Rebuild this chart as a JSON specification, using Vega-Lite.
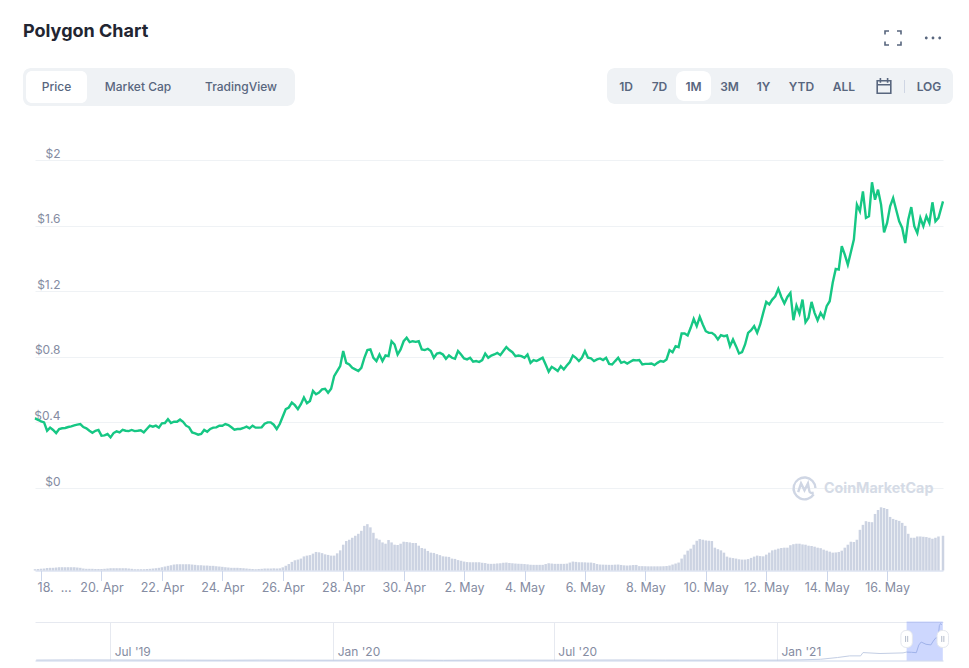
{"$schema":"https://vega.github.io/schema/vega-lite/v6.json","width":969,"height":668,"autosize":{"type":"none"},"padding":0,"background":"#ffffff","config":{"view":{"stroke":null},"font":"Inter"},
"data":{"name":"one"},
"datasets":{"one":[{}],"handles":[{"t":"2021-04-18T00:00Z"},{"t":"2021-05-17T20:00Z"}],"selected":[{"from":"2021-04-18T00:00Z","to":"2021-05-17T20:00Z"}],
"nav":[{"t":"2019-05-01","p":0.02},{"t":"2019-06-01","p":0.028},{"t":"2019-07-01","p":0.025},{"t":"2019-08-01","p":0.02},{"t":"2019-09-01","p":0.018},{"t":"2019-10-01","p":0.013},{"t":"2019-11-01","p":0.02},{"t":"2019-12-01","p":0.016},{"t":"2020-01-01","p":0.014},{"t":"2020-02-01","p":0.022},{"t":"2020-03-01","p":0.02},{"t":"2020-04-01","p":0.01},{"t":"2020-05-01","p":0.017},{"t":"2020-06-01","p":0.018},{"t":"2020-07-01","p":0.016},{"t":"2020-08-01","p":0.022},{"t":"2020-09-01","p":0.025},{"t":"2020-10-01","p":0.018},{"t":"2020-11-01","p":0.017},{"t":"2020-12-01","p":0.018},{"t":"2021-01-01","p":0.018},{"t":"2021-01-20","p":0.03},{"t":"2021-02-06","p":0.06},{"t":"2021-02-20","p":0.145},{"t":"2021-03-02","p":0.225},{"t":"2021-03-11","p":0.225},{"t":"2021-03-13","p":0.386},{"t":"2021-03-27","p":0.34},{"t":"2021-04-15","p":0.37},{"t":"2021-04-18","p":0.41},{"t":"2021-04-22","p":0.4},{"t":"2021-04-26","p":0.38},{"t":"2021-04-28","p":0.75},{"t":"2021-04-30","p":0.9},{"t":"2021-05-04","p":0.79},{"t":"2021-05-08","p":0.76},{"t":"2021-05-10","p":0.95},{"t":"2021-05-12","p":1.1},{"t":"2021-05-14","p":1.1},{"t":"2021-05-15","p":1.7},{"t":"2021-05-16","p":1.8},{"t":"2021-05-17","p":1.74}],
"main":[
{"t":"2021-04-17T19:12Z","p":0.424,"v":13},{"t":"2021-04-17T21:36Z","p":0.416,"v":15},
{"t":"2021-04-18T00:00Z","p":0.406,"v":18},{"t":"2021-04-18T02:24Z","p":0.4,"v":20},{"t":"2021-04-18T04:48Z","p":0.349,"v":25},{"t":"2021-04-18T07:12Z","p":0.368,"v":27},{"t":"2021-04-18T09:36Z","p":0.354,"v":27},{"t":"2021-04-18T12:00Z","p":0.335,"v":30},{"t":"2021-04-18T14:24Z","p":0.36,"v":33},{"t":"2021-04-18T16:48Z","p":0.364,"v":33},{"t":"2021-04-18T19:12Z","p":0.366,"v":33},{"t":"2021-04-18T21:36Z","p":0.372,"v":33},
{"t":"2021-04-19T00:00Z","p":0.376,"v":33},{"t":"2021-04-19T02:24Z","p":0.382,"v":33},{"t":"2021-04-19T04:48Z","p":0.386,"v":30},{"t":"2021-04-19T07:12Z","p":0.39,"v":27},{"t":"2021-04-19T09:36Z","p":0.372,"v":20},{"t":"2021-04-19T12:00Z","p":0.364,"v":17},{"t":"2021-04-19T14:24Z","p":0.349,"v":17},{"t":"2021-04-19T16:48Z","p":0.337,"v":17},{"t":"2021-04-19T19:12Z","p":0.349,"v":15},{"t":"2021-04-19T21:36Z","p":0.354,"v":15},
{"t":"2021-04-20T00:00Z","p":0.319,"v":15},{"t":"2021-04-20T02:24Z","p":0.321,"v":17},{"t":"2021-04-20T04:48Z","p":0.329,"v":20},{"t":"2021-04-20T07:12Z","p":0.309,"v":23},{"t":"2021-04-20T09:36Z","p":0.335,"v":23},{"t":"2021-04-20T12:00Z","p":0.345,"v":23},{"t":"2021-04-20T14:24Z","p":0.339,"v":23},{"t":"2021-04-20T16:48Z","p":0.354,"v":23},{"t":"2021-04-20T19:12Z","p":0.349,"v":23},{"t":"2021-04-20T21:36Z","p":0.347,"v":20},
{"t":"2021-04-21T00:00Z","p":0.354,"v":17},{"t":"2021-04-21T02:24Z","p":0.347,"v":13},{"t":"2021-04-21T04:48Z","p":0.349,"v":13},{"t":"2021-04-21T07:12Z","p":0.352,"v":13},{"t":"2021-04-21T09:36Z","p":0.339,"v":13},{"t":"2021-04-21T12:00Z","p":0.36,"v":15},{"t":"2021-04-21T14:24Z","p":0.38,"v":17},{"t":"2021-04-21T16:48Z","p":0.374,"v":20},{"t":"2021-04-21T19:12Z","p":0.38,"v":23},{"t":"2021-04-21T21:36Z","p":0.368,"v":27},
{"t":"2021-04-22T00:00Z","p":0.394,"v":33},{"t":"2021-04-22T02:24Z","p":0.396,"v":40},{"t":"2021-04-22T04:48Z","p":0.42,"v":47},{"t":"2021-04-22T07:12Z","p":0.396,"v":53},{"t":"2021-04-22T09:36Z","p":0.404,"v":60},{"t":"2021-04-22T12:00Z","p":0.404,"v":63},{"t":"2021-04-22T14:24Z","p":0.418,"v":63},{"t":"2021-04-22T16:48Z","p":0.404,"v":63},{"t":"2021-04-22T19:12Z","p":0.38,"v":63},{"t":"2021-04-22T21:36Z","p":0.37,"v":63},
{"t":"2021-04-23T00:00Z","p":0.339,"v":60},{"t":"2021-04-23T02:24Z","p":0.333,"v":57},{"t":"2021-04-23T04:48Z","p":0.325,"v":53},{"t":"2021-04-23T07:12Z","p":0.329,"v":53},{"t":"2021-04-23T09:36Z","p":0.354,"v":50},{"t":"2021-04-23T12:00Z","p":0.343,"v":50},{"t":"2021-04-23T14:24Z","p":0.36,"v":47},{"t":"2021-04-23T16:48Z","p":0.368,"v":47},{"t":"2021-04-23T19:12Z","p":0.37,"v":43},{"t":"2021-04-23T21:36Z","p":0.38,"v":40},
{"t":"2021-04-24T00:00Z","p":0.38,"v":37},{"t":"2021-04-24T02:24Z","p":0.39,"v":33},{"t":"2021-04-24T04:48Z","p":0.384,"v":30},{"t":"2021-04-24T07:12Z","p":0.37,"v":27},{"t":"2021-04-24T09:36Z","p":0.356,"v":27},{"t":"2021-04-24T12:00Z","p":0.36,"v":27},{"t":"2021-04-24T14:24Z","p":0.36,"v":25},{"t":"2021-04-24T16:48Z","p":0.366,"v":23},{"t":"2021-04-24T19:12Z","p":0.374,"v":20},{"t":"2021-04-24T21:36Z","p":0.364,"v":17},
{"t":"2021-04-25T00:00Z","p":0.38,"v":15},{"t":"2021-04-25T02:24Z","p":0.368,"v":13},{"t":"2021-04-25T04:48Z","p":0.368,"v":15},{"t":"2021-04-25T07:12Z","p":0.37,"v":17},{"t":"2021-04-25T09:36Z","p":0.392,"v":20},{"t":"2021-04-25T12:00Z","p":0.4,"v":20},{"t":"2021-04-25T14:24Z","p":0.4,"v":20},{"t":"2021-04-25T16:48Z","p":0.386,"v":22},{"t":"2021-04-25T19:12Z","p":0.36,"v":20},{"t":"2021-04-25T21:36Z","p":0.39,"v":22},
{"t":"2021-04-26T00:00Z","p":0.436,"v":32},{"t":"2021-04-26T02:24Z","p":0.481,"v":48},{"t":"2021-04-26T04:48Z","p":0.491,"v":65},{"t":"2021-04-26T07:12Z","p":0.521,"v":87},{"t":"2021-04-26T09:36Z","p":0.505,"v":103},{"t":"2021-04-26T12:00Z","p":0.481,"v":110},{"t":"2021-04-26T14:24Z","p":0.511,"v":120},{"t":"2021-04-26T16:48Z","p":0.552,"v":142},{"t":"2021-04-26T19:12Z","p":0.517,"v":150},{"t":"2021-04-26T21:36Z","p":0.531,"v":155},
{"t":"2021-04-27T00:00Z","p":0.592,"v":170},{"t":"2021-04-27T02:24Z","p":0.572,"v":187},{"t":"2021-04-27T04:48Z","p":0.582,"v":183},{"t":"2021-04-27T07:12Z","p":0.601,"v":175},{"t":"2021-04-27T09:36Z","p":0.605,"v":163},{"t":"2021-04-27T12:00Z","p":0.581,"v":157},{"t":"2021-04-27T14:24Z","p":0.605,"v":150},{"t":"2021-04-27T16:48Z","p":0.682,"v":150},{"t":"2021-04-27T19:12Z","p":0.713,"v":173},{"t":"2021-04-27T21:36Z","p":0.743,"v":203},
{"t":"2021-04-28T00:00Z","p":0.835,"v":260},{"t":"2021-04-28T02:24Z","p":0.763,"v":297},{"t":"2021-04-28T04:48Z","p":0.753,"v":310},{"t":"2021-04-28T07:12Z","p":0.733,"v":330},{"t":"2021-04-28T09:36Z","p":0.723,"v":350},{"t":"2021-04-28T12:00Z","p":0.713,"v":370},{"t":"2021-04-28T14:24Z","p":0.733,"v":400},{"t":"2021-04-28T16:48Z","p":0.794,"v":450},{"t":"2021-04-28T19:12Z","p":0.841,"v":467},{"t":"2021-04-28T21:36Z","p":0.845,"v":435},
{"t":"2021-04-29T00:00Z","p":0.794,"v":380},{"t":"2021-04-29T02:24Z","p":0.774,"v":323},{"t":"2021-04-29T04:48Z","p":0.814,"v":310},{"t":"2021-04-29T07:12Z","p":0.774,"v":283},{"t":"2021-04-29T09:36Z","p":0.808,"v":270},{"t":"2021-04-29T12:00Z","p":0.804,"v":307},{"t":"2021-04-29T14:24Z","p":0.895,"v":283},{"t":"2021-04-29T16:48Z","p":0.875,"v":260},{"t":"2021-04-29T19:12Z","p":0.814,"v":257},{"t":"2021-04-29T21:36Z","p":0.845,"v":270},
{"t":"2021-04-30T00:00Z","p":0.895,"v":290},{"t":"2021-04-30T02:24Z","p":0.916,"v":287},{"t":"2021-04-30T04:48Z","p":0.889,"v":283},{"t":"2021-04-30T07:12Z","p":0.895,"v":277},{"t":"2021-04-30T09:36Z","p":0.891,"v":277},{"t":"2021-04-30T12:00Z","p":0.895,"v":250},{"t":"2021-04-30T14:24Z","p":0.845,"v":227},{"t":"2021-04-30T16:48Z","p":0.841,"v":220},{"t":"2021-04-30T19:12Z","p":0.849,"v":197},{"t":"2021-04-30T21:36Z","p":0.835,"v":180},
{"t":"2021-05-01T00:00Z","p":0.794,"v":177},{"t":"2021-05-01T02:24Z","p":0.82,"v":165},{"t":"2021-05-01T04:48Z","p":0.824,"v":155},{"t":"2021-05-01T07:12Z","p":0.814,"v":143},{"t":"2021-05-01T09:36Z","p":0.788,"v":140},{"t":"2021-05-01T12:00Z","p":0.808,"v":137},{"t":"2021-05-01T14:24Z","p":0.794,"v":120},{"t":"2021-05-01T16:48Z","p":0.788,"v":117},{"t":"2021-05-01T19:12Z","p":0.835,"v":105},{"t":"2021-05-01T21:36Z","p":0.814,"v":98},
{"t":"2021-05-02T00:00Z","p":0.79,"v":90},{"t":"2021-05-02T02:24Z","p":0.784,"v":85},{"t":"2021-05-02T04:48Z","p":0.794,"v":83},{"t":"2021-05-02T07:12Z","p":0.77,"v":83},{"t":"2021-05-02T09:36Z","p":0.774,"v":83},{"t":"2021-05-02T12:00Z","p":0.768,"v":83},{"t":"2021-05-02T14:24Z","p":0.78,"v":78},{"t":"2021-05-02T16:48Z","p":0.82,"v":75},{"t":"2021-05-02T19:12Z","p":0.794,"v":68},{"t":"2021-05-02T21:36Z","p":0.808,"v":67},
{"t":"2021-05-03T00:00Z","p":0.814,"v":68},{"t":"2021-05-03T02:24Z","p":0.824,"v":71},{"t":"2021-05-03T04:48Z","p":0.81,"v":73},{"t":"2021-05-03T07:12Z","p":0.835,"v":78},{"t":"2021-05-03T09:36Z","p":0.859,"v":80},{"t":"2021-05-03T12:00Z","p":0.841,"v":76},{"t":"2021-05-03T14:24Z","p":0.828,"v":72},{"t":"2021-05-03T16:48Z","p":0.804,"v":70},{"t":"2021-05-03T19:12Z","p":0.808,"v":68},{"t":"2021-05-03T21:36Z","p":0.804,"v":67},
{"t":"2021-05-04T00:00Z","p":0.794,"v":65},{"t":"2021-05-04T02:24Z","p":0.814,"v":62},{"t":"2021-05-04T04:48Z","p":0.763,"v":58},{"t":"2021-05-04T07:12Z","p":0.78,"v":57},{"t":"2021-05-04T09:36Z","p":0.774,"v":57},{"t":"2021-05-04T12:00Z","p":0.784,"v":57},{"t":"2021-05-04T14:24Z","p":0.794,"v":57},{"t":"2021-05-04T16:48Z","p":0.753,"v":65},{"t":"2021-05-04T19:12Z","p":0.709,"v":73},{"t":"2021-05-04T21:36Z","p":0.739,"v":70},
{"t":"2021-05-05T00:00Z","p":0.727,"v":67},{"t":"2021-05-05T02:24Z","p":0.713,"v":67},{"t":"2021-05-05T04:48Z","p":0.743,"v":67},{"t":"2021-05-05T07:12Z","p":0.723,"v":67},{"t":"2021-05-05T09:36Z","p":0.747,"v":69},{"t":"2021-05-05T12:00Z","p":0.768,"v":80},{"t":"2021-05-05T14:24Z","p":0.808,"v":90},{"t":"2021-05-05T16:48Z","p":0.794,"v":87},{"t":"2021-05-05T19:12Z","p":0.774,"v":83},{"t":"2021-05-05T21:36Z","p":0.794,"v":83},
{"t":"2021-05-06T00:00Z","p":0.835,"v":82},{"t":"2021-05-06T02:24Z","p":0.794,"v":80},{"t":"2021-05-06T04:48Z","p":0.79,"v":80},{"t":"2021-05-06T07:12Z","p":0.774,"v":75},{"t":"2021-05-06T09:36Z","p":0.784,"v":65},{"t":"2021-05-06T12:00Z","p":0.79,"v":60},{"t":"2021-05-06T14:24Z","p":0.78,"v":59},{"t":"2021-05-06T16:48Z","p":0.794,"v":58},{"t":"2021-05-06T19:12Z","p":0.757,"v":57},{"t":"2021-05-06T21:36Z","p":0.753,"v":57},
{"t":"2021-05-07T00:00Z","p":0.774,"v":59},{"t":"2021-05-07T02:24Z","p":0.794,"v":60},{"t":"2021-05-07T04:48Z","p":0.763,"v":56},{"t":"2021-05-07T07:12Z","p":0.77,"v":52},{"t":"2021-05-07T09:36Z","p":0.759,"v":50},{"t":"2021-05-07T12:00Z","p":0.77,"v":52},{"t":"2021-05-07T14:24Z","p":0.78,"v":55},{"t":"2021-05-07T16:48Z","p":0.778,"v":56},{"t":"2021-05-07T19:12Z","p":0.78,"v":44},{"t":"2021-05-07T21:36Z","p":0.753,"v":44},
{"t":"2021-05-08T00:00Z","p":0.757,"v":43},{"t":"2021-05-08T02:24Z","p":0.757,"v":42},{"t":"2021-05-08T04:48Z","p":0.759,"v":42},{"t":"2021-05-08T07:12Z","p":0.749,"v":42},{"t":"2021-05-08T09:36Z","p":0.763,"v":42},{"t":"2021-05-08T12:00Z","p":0.774,"v":42},{"t":"2021-05-08T14:24Z","p":0.77,"v":43},{"t":"2021-05-08T16:48Z","p":0.784,"v":45},{"t":"2021-05-08T19:12Z","p":0.841,"v":50},{"t":"2021-05-08T21:36Z","p":0.828,"v":60},
{"t":"2021-05-09T00:00Z","p":0.865,"v":70},{"t":"2021-05-09T02:24Z","p":0.859,"v":80},{"t":"2021-05-09T04:48Z","p":0.942,"v":120},{"t":"2021-05-09T07:12Z","p":0.942,"v":160},{"t":"2021-05-09T09:36Z","p":0.93,"v":200},{"t":"2021-05-09T12:00Z","p":0.977,"v":220},{"t":"2021-05-09T14:24Z","p":1.031,"v":260},{"t":"2021-05-09T16:48Z","p":0.987,"v":300},{"t":"2021-05-09T19:12Z","p":1.044,"v":317},{"t":"2021-05-09T21:36Z","p":0.997,"v":310},
{"t":"2021-05-10T00:00Z","p":0.956,"v":303},{"t":"2021-05-10T02:24Z","p":0.946,"v":300},{"t":"2021-05-10T04:48Z","p":0.946,"v":297},{"t":"2021-05-10T07:12Z","p":0.932,"v":230},{"t":"2021-05-10T09:36Z","p":0.906,"v":215},{"t":"2021-05-10T12:00Z","p":0.932,"v":203},{"t":"2021-05-10T14:24Z","p":0.926,"v":180},{"t":"2021-05-10T16:48Z","p":0.93,"v":140},{"t":"2021-05-10T19:12Z","p":0.865,"v":130},{"t":"2021-05-10T21:36Z","p":0.906,"v":125},
{"t":"2021-05-11T00:00Z","p":0.865,"v":120},{"t":"2021-05-11T02:24Z","p":0.82,"v":113},{"t":"2021-05-11T04:48Z","p":0.828,"v":110},{"t":"2021-05-11T07:12Z","p":0.875,"v":110},{"t":"2021-05-11T09:36Z","p":0.946,"v":115},{"t":"2021-05-11T12:00Z","p":0.962,"v":127},{"t":"2021-05-11T14:24Z","p":0.987,"v":140},{"t":"2021-05-11T16:48Z","p":0.946,"v":150},{"t":"2021-05-11T19:12Z","p":0.997,"v":145},{"t":"2021-05-11T21:36Z","p":1.068,"v":143},
{"t":"2021-05-12T00:00Z","p":1.135,"v":160},{"t":"2021-05-12T02:24Z","p":1.119,"v":180},{"t":"2021-05-12T04:48Z","p":1.149,"v":203},{"t":"2021-05-12T07:12Z","p":1.169,"v":210},{"t":"2021-05-12T09:36Z","p":1.214,"v":220},{"t":"2021-05-12T12:00Z","p":1.165,"v":227},{"t":"2021-05-12T14:24Z","p":1.125,"v":230},{"t":"2021-05-12T16:48Z","p":1.165,"v":230},{"t":"2021-05-12T19:12Z","p":1.19,"v":255},{"t":"2021-05-12T21:36Z","p":1.023,"v":265},
{"t":"2021-05-13T00:00Z","p":1.113,"v":270},{"t":"2021-05-13T02:24Z","p":1.064,"v":270},{"t":"2021-05-13T04:48Z","p":1.149,"v":263},{"t":"2021-05-13T07:12Z","p":1.011,"v":260},{"t":"2021-05-13T09:36Z","p":1.038,"v":250},{"t":"2021-05-13T12:00Z","p":1.135,"v":247},{"t":"2021-05-13T14:24Z","p":1.068,"v":240},{"t":"2021-05-13T16:48Z","p":1.023,"v":230},{"t":"2021-05-13T19:12Z","p":1.068,"v":225},{"t":"2021-05-13T21:36Z","p":1.038,"v":210},
{"t":"2021-05-14T00:00Z","p":1.109,"v":200},{"t":"2021-05-14T02:24Z","p":1.139,"v":190},{"t":"2021-05-14T04:48Z","p":1.251,"v":180},{"t":"2021-05-14T07:12Z","p":1.336,"v":182},{"t":"2021-05-14T09:36Z","p":1.332,"v":187},{"t":"2021-05-14T12:00Z","p":1.474,"v":200},{"t":"2021-05-14T14:24Z","p":1.423,"v":230},{"t":"2021-05-14T16:48Z","p":1.362,"v":260},{"t":"2021-05-14T19:12Z","p":1.437,"v":290},{"t":"2021-05-14T21:36Z","p":1.515,"v":287},
{"t":"2021-05-15T00:00Z","p":1.728,"v":310},{"t":"2021-05-15T02:24Z","p":1.687,"v":410},{"t":"2021-05-15T04:48Z","p":1.809,"v":460},{"t":"2021-05-15T07:12Z","p":1.647,"v":497},{"t":"2021-05-15T09:36Z","p":1.657,"v":490},{"t":"2021-05-15T12:00Z","p":1.864,"v":487},{"t":"2021-05-15T14:24Z","p":1.758,"v":570},{"t":"2021-05-15T16:48Z","p":1.819,"v":610},{"t":"2021-05-15T19:12Z","p":1.728,"v":637},{"t":"2021-05-15T21:36Z","p":1.559,"v":630},
{"t":"2021-05-16T00:00Z","p":1.616,"v":620},{"t":"2021-05-16T02:24Z","p":1.718,"v":540},{"t":"2021-05-16T04:48Z","p":1.768,"v":520},{"t":"2021-05-16T07:12Z","p":1.697,"v":510},{"t":"2021-05-16T09:36Z","p":1.626,"v":500},{"t":"2021-05-16T12:00Z","p":1.586,"v":480},{"t":"2021-05-16T14:24Z","p":1.494,"v":450},{"t":"2021-05-16T16:48Z","p":1.636,"v":370},{"t":"2021-05-16T19:12Z","p":1.713,"v":330},{"t":"2021-05-16T21:36Z","p":1.596,"v":330},
{"t":"2021-05-17T00:00Z","p":1.555,"v":343},{"t":"2021-05-17T02:24Z","p":1.647,"v":343},{"t":"2021-05-17T04:48Z","p":1.596,"v":340},{"t":"2021-05-17T07:12Z","p":1.657,"v":337},{"t":"2021-05-17T09:36Z","p":1.616,"v":330},{"t":"2021-05-17T12:00Z","p":1.742,"v":320},{"t":"2021-05-17T14:24Z","p":1.626,"v":330},{"t":"2021-05-17T16:48Z","p":1.647,"v":343},{"t":"2021-05-17T20:24Z","p":1.748,"v":350}
]},
"resolve":{"scale":{"x":"independent","y":"independent"}},
"layer":[
{"data":{"name":"main"},"mark":{"type":"line","color":"#16C784","strokeWidth":2.4,"interpolate":"linear"},"encoding":{
"x":{"field":"t","type":"temporal","scale":{"type":"utc","domain":[{"year":2021,"month":"apr","date":17,"hours":19,"minutes":12,"utc":true},{"year":2021,"month":"may","date":17,"hours":20,"minutes":24,"utc":true}],"range":[35,943]},"axis":null},
"y":{"field":"p","type":"quantitative","scale":{"domain":[0,2],"range":[488,160],"nice":false,"zero":false},"axis":{"title":null,"orient":"left","values":[0,0.4,0.8,1.2,1.6,2],"labelExpr":"'$'+datum.value","grid":true,"gridColor":"#EFF2F5","gridWidth":1,"domain":false,"ticks":false,"tickSize":0,"labelPadding":-60,"labelAlign":"right","labelBaseline":"bottom","labelOffset":0,"labelFont":"Inter","labelFontSize":12,"labelColor":"#858CA2"}}}},
{"data":{"name":"main"},"mark":{"type":"bar","color":"#CCD3E2","width":2.5},"encoding":{
"x":{"field":"t","type":"temporal","scale":{"type":"utc","padding":0,"domain":[{"year":2021,"month":"apr","date":17,"hours":19,"minutes":12,"utc":true},{"year":2021,"month":"may","date":17,"hours":20,"minutes":24,"utc":true}],"range":[35,943]},"axis":{"title":null,"orient":"bottom","offset":-97.5,"values":[{"year":2021,"month":"apr","date":18,"utc":true},{"year":2021,"month":"apr","date":20,"utc":true},{"year":2021,"month":"apr","date":22,"utc":true},{"year":2021,"month":"apr","date":24,"utc":true},{"year":2021,"month":"apr","date":26,"utc":true},{"year":2021,"month":"apr","date":28,"utc":true},{"year":2021,"month":"apr","date":30,"utc":true},{"year":2021,"month":"may","date":2,"utc":true},{"year":2021,"month":"may","date":4,"utc":true},{"year":2021,"month":"may","date":6,"utc":true},{"year":2021,"month":"may","date":8,"utc":true},{"year":2021,"month":"may","date":10,"utc":true},{"year":2021,"month":"may","date":12,"utc":true},{"year":2021,"month":"may","date":14,"utc":true},{"year":2021,"month":"may","date":16,"utc":true}],"labelExpr":"utcdate(datum.value)==18?'18.\u00a0\u00a0...':utcFormat(datum.value,'%-d. %b')","labelAlign":{"condition":{"test":"utcdate(datum.value)==18","value":"left"},"value":"center"},"labelOffset":{"condition":{"test":"utcdate(datum.value)==18","value":-4},"value":0},"labelOverlap":false,"labelBound":false,"grid":false,"domain":true,"domainColor":"#CCD6EB","ticks":true,"tickColor":"#CCD6EB","tickSize":10,"labelPadding":1,"labelFont":"Inter","labelFontSize":12.5,"labelColor":"#858CA2"}},
"y":{"field":"v","type":"quantitative","scale":{"domain":[0,640],"range":[570.5,507],"nice":false},"axis":null}}},
{"layer":[
{"data":{"name":"nav"},"mark":{"type":"line","color":"#C3CEE4","strokeWidth":1},"encoding":{
"x":{"field":"t","type":"temporal","scale":{"type":"utc","domain":[{"year":2019,"month":"apr","date":30,"utc":true},{"year":2021,"month":"may","date":18,"utc":true}],"range":[35,943]},"axis":{"title":null,"orient":"top","offset":-660.5,"values":[{"year":2019,"month":"jul","date":1,"utc":true},{"year":2020,"month":"jan","date":1,"utc":true},{"year":2020,"month":"jul","date":1,"utc":true},{"year":2021,"month":"jan","date":1,"utc":true}],"labelExpr":"utcFormat(datum.value,\"%b '%y\")","grid":true,"gridColor":"#E6E9F0","domain":true,"domainColor":"#CCD6EB","ticks":false,"tickSize":0,"labelPadding":2.5,"labelAlign":"left","labelBaseline":"bottom","labelOffset":4,"labelFont":"Inter","labelFontSize":12,"labelColor":"#858CA2"}},
"y":{"field":"p","type":"quantitative","scale":{"domain":[0,1.9],"range":[660.5,621.5],"nice":false},"axis":{"title":null,"orient":"left","values":[1.9],"labels":false,"ticks":false,"domain":false,"grid":true,"gridColor":"#E6E9F0"}}}},
{"data":{"name":"selected"},"mark":{"type":"rect","color":"#3861FB","opacity":0.25},"encoding":{"x":{"field":"from","type":"temporal"},"x2":{"field":"to"},"y":{"datum":0,"type":"quantitative"},"y2":{"datum":1.9}}},
{"data":{"name":"handles"},"mark":{"type":"rect","fill":"#ffffff","stroke":"#E4E7EE","strokeWidth":1,"width":11.5,"height":17,"cornerRadius":5},"encoding":{"x":{"field":"t","type":"temporal"},"y":{"datum":1.05,"type":"quantitative"}}},
{"data":{"name":"handles"},"mark":{"type":"point","shape":"M-0.35,-1V1M0.35,-1V1","size":36,"filled":false,"stroke":"#B4BCCB","strokeWidth":1,"opacity":1},"encoding":{"x":{"field":"t","type":"temporal"},"y":{"datum":1.05,"type":"quantitative"}}}
]},
{"mark":{"type":"text","text":"Polygon Chart","x":23,"y":32,"align":"left","baseline":"middle","font":"Inter","fontSize":18,"fontWeight":700,"color":"#222531"}},
{"mark":{"type":"rect","fill":"#EFF2F5","cornerRadius":8},"encoding":{"x":{"value":23},"x2":{"value":295},"y":{"value":68},"y2":{"value":106}}},
{"mark":{"type":"rect","fill":"#ffffff","cornerRadius":6},"encoding":{"x":{"value":26},"x2":{"value":87},"y":{"value":71},"y2":{"value":103}}},
{"mark":{"type":"text","text":"Price","x":56.5,"y":87,"align":"center","baseline":"middle","font":"Inter","fontSize":12,"fontWeight":500,"color":"#58667E"}},
{"mark":{"type":"text","text":"Market Cap","x":138,"y":87,"align":"center","baseline":"middle","font":"Inter","fontSize":12,"fontWeight":500,"color":"#58667E"}},
{"mark":{"type":"text","text":"TradingView","x":241,"y":87,"align":"center","baseline":"middle","font":"Inter","fontSize":12,"fontWeight":500,"color":"#58667E"}},
{"mark":{"type":"rect","fill":"#EFF2F5","cornerRadius":8},"encoding":{"x":{"value":607},"x2":{"value":953},"y":{"value":68},"y2":{"value":104}}},
{"mark":{"type":"rect","fill":"#ffffff","cornerRadius":8},"encoding":{"x":{"value":676},"x2":{"value":711},"y":{"value":71},"y2":{"value":101}}},
{"mark":{"type":"text","text":"1D","x":626,"y":87,"align":"center","baseline":"middle","font":"Inter","fontSize":12,"fontWeight":600,"color":"#58667E"}},
{"mark":{"type":"text","text":"7D","x":659.5,"y":87,"align":"center","baseline":"middle","font":"Inter","fontSize":12,"fontWeight":600,"color":"#58667E"}},
{"mark":{"type":"text","text":"1M","x":693.5,"y":87,"align":"center","baseline":"middle","font":"Inter","fontSize":12,"fontWeight":600,"color":"#58667E"}},
{"mark":{"type":"text","text":"3M","x":729.5,"y":87,"align":"center","baseline":"middle","font":"Inter","fontSize":12,"fontWeight":600,"color":"#58667E"}},
{"mark":{"type":"text","text":"1Y","x":763.5,"y":87,"align":"center","baseline":"middle","font":"Inter","fontSize":12,"fontWeight":600,"color":"#58667E"}},
{"mark":{"type":"text","text":"YTD","x":801.5,"y":87,"align":"center","baseline":"middle","font":"Inter","fontSize":12,"fontWeight":600,"color":"#58667E"}},
{"mark":{"type":"text","text":"ALL","x":844,"y":87,"align":"center","baseline":"middle","font":"Inter","fontSize":12,"fontWeight":600,"color":"#58667E"}},
{"mark":{"type":"text","text":"LOG","x":929,"y":87,"align":"center","baseline":"middle","font":"Inter","fontSize":12,"fontWeight":600,"color":"#58667E"}},
{"mark":{"type":"rule","color":"#CFD6E4","strokeWidth":1},"encoding":{"x":{"value":904.5},"y":{"value":80},"y2":{"value":93}}},
{"mark":{"type":"point","shape":"M-0.85,-0.65H0.85V0.9H-0.85ZM-0.85,-0.15H0.85M-0.45,-1V-0.4M0.45,-1V-0.4","size":256,"filled":false,"stroke":"#58667E","strokeWidth":1.6,"opacity":1,"x":884,"y":86}},
{"mark":{"type":"point","shape":"M-1,-0.45V-0.875H-0.5M0.5,-0.875H1V-0.45M1,0.45V0.875H0.5M-0.5,0.875H-1V0.45","size":256,"filled":false,"stroke":"#58667E","strokeWidth":1.6,"opacity":1,"x":893,"y":38}},
{"mark":{"type":"point","shape":"M-1.015,0a0.175,0.175 0 1 0 0.35,0a0.175,0.175 0 1 0 -0.35,0M-0.175,0a0.175,0.175 0 1 0 0.35,0a0.175,0.175 0 1 0 -0.35,0M0.665,0a0.175,0.175 0 1 0 0.35,0a0.175,0.175 0 1 0 -0.35,0","size":256,"filled":true,"fill":"#58667E","opacity":1,"x":933,"y":38}},
{"mark":{"type":"point","shape":"M0.8,0.55A0.95,0.95 0 1 1 0.95,0M-0.55,0.35L-0.3,-0.4L0,0.2L0.3,-0.4L0.42,0.25Q0.45,0.5 0.8,0.4","size":529,"filled":false,"stroke":"#CFD6E4","strokeWidth":2.4,"opacity":1,"x":804.5,"y":488}},
{"mark":{"type":"text","text":"CoinMarketCap","x":824,"y":489,"align":"left","baseline":"middle","font":"Inter","fontSize":14.3,"fontWeight":700,"color":"#D5DBE6"}}
]}
